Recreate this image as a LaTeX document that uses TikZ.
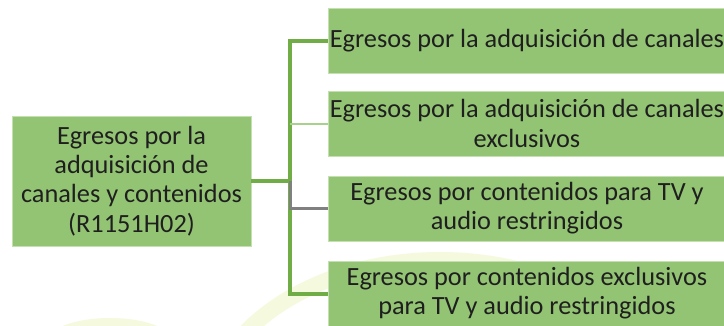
\documentclass[tikz,border=0pt]{standalone}
\usepackage{fontspec}
\setmainfont{Carlito}
\definecolor{boxg}{RGB}{147,196,115}
\definecolor{lineg}{RGB}{112,173,71}
\definecolor{lightg}{RGB}{169,209,142}
\definecolor{greyl}{RGB}{128,128,128}
\definecolor{wm}{RGB}{245,250,222}
\begin{document}
\begin{tikzpicture}[x=1pt,y=-1pt,
  box/.style={fill=boxg, draw=boxg!55!white, line width=0.8pt, align=center, inner sep=0pt,
    font=\fontsize{26.3}{29.2}\selectfont, text=black!88},
  childbox/.style={box, minimum width=398pt, minimum height=65pt},
  trunk/.style={lineg, line width=4pt},
  lightline/.style={lightg, line width=2pt},
  greyline/.style={greyl, line width=3pt}]
\useasboundingbox (0,0) rectangle (724,325);
\clip (0,0) rectangle (724,325);
\fill[white] (0,0) rectangle (724,325);
% faint watermark
\draw[wm, line width=16pt] (440,425) ellipse [x radius=235, y radius=165];
\draw[wm, line width=10pt] (110,345) ellipse [x radius=60, y radius=22];
% nodes
\node[box, minimum width=239pt, minimum height=130pt] (p) at (131.5,181)
  {Egresos por la\\adquisición de\\canales y contenidos\\(R1151H02)};
\node[childbox] (c1) at (527,40.5) {Egresos por la adquisición de canales};
\node[childbox] (c2) at (527,123.5) {Egresos por la adquisición de canales\\exclusivos};
\node[childbox] (c3) at (527,208.5) {Egresos por contenidos para TV y\\audio restringidos};
\node[childbox] (c4) at (527,293.5) {Egresos por contenidos exclusivos\\para TV y audio restringidos};
% connectors
\coordinate (j) at (290,181);
\draw[trunk] (c1.west) -| (j |- c4.west) -- (c4.west);
\draw[trunk] (p.east) -- (j);
\draw[lightline] (j |- c2.west) -- (c2.west);
\draw[greyline] (j) |- (c3.west);
\end{tikzpicture}
\end{document}
